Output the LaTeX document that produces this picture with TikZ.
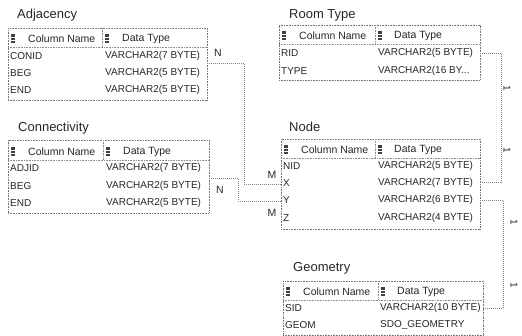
\documentclass[tikz,border=0pt]{standalone}
\usepackage{fontspec}
\setmainfont{Liberation Sans}
\tikzset{
 tbox/.style={draw=black!55, dash pattern=on 0.8pt off 0.8pt, line width=0.6pt, inner sep=0pt, outer sep=0pt, anchor=north west},
 tline/.style={draw=black!45, dash pattern=on 0.8pt off 0.8pt, line width=0.5pt},
 ttl/.style={font=\fontsize{13}{15}\selectfont, anchor=west, inner sep=0pt, text=black!85},
 hdr/.style={font=\fontsize{10.5}{12}\selectfont, anchor=west, inner sep=0pt, text=black!85},
 cell/.style={font=\fontsize{10}{12}\selectfont, anchor=west, inner sep=0pt, text=black!85},
 conn/.style={draw=black!50, dash pattern=on 0.8pt off 1.2pt, line width=0.6pt},
 card/.style={font=\fontsize{10.5}{12}\selectfont, inner sep=0pt, text=black!85},
 onelab/.style={font=\fontsize{10}{12}\selectfont, inner sep=0pt, rotate=-90, text=black!85},
}
\newcommand\colicon[2]{%
  \fill[black!75] (#1,#2-4.5) rectangle (#1+4,#2+4.5);
  \draw[white,line width=0.4pt] (#1,#2-1.5) -- (#1+4,#2-1.5) (#1,#2+1.5) -- (#1+4,#2+1.5);}
\begin{document}
\begin{tikzpicture}[x=1pt,y=-1pt]
\useasboundingbox (0,0) rectangle (522,336);

% Adjacency
\node[ttl] (adjT) at (17,15) {Adjacency};
\node[tbox, minimum width=199pt, minimum height=72pt] (adj) at (8,28) {};
\draw[tline] (adj.west |- 0,47) -- (adj.east |- 0,47);
\draw[tline] (102,28) -- (102,47);
\colicon{11}{39}\colicon{105}{39}
\node[hdr] (adjh1) at (28,39) {Column Name};
\node[hdr] (adjh2) at (122,39) {Data Type};
\node[cell] (adjr1) at (10,56) {CONID};
\node[cell] (adjd1) at (105,56) {VARCHAR2(7 BYTE)};
\node[cell] (adjr2) at (10,73) {BEG};
\node[cell] (adjd2) at (105,73) {VARCHAR2(5 BYTE)};
\node[cell] (adjr3) at (10,90) {END};
\node[cell] (adjd3) at (105,90) {VARCHAR2(5 BYTE)};

% Connectivity
\node[ttl] (conT) at (18,128) {Connectivity};
\node[tbox, minimum width=201pt, minimum height=73pt] (con) at (8,140) {};
\draw[tline] (con.west |- 0,160) -- (con.east |- 0,160);
\draw[tline] (103,140) -- (103,160);
\colicon{11}{152}\colicon{106}{152}
\node[hdr] (conh1) at (28,152) {Column Name};
\node[hdr] (conh2) at (123,152) {Data Type};
\node[cell] (conr1) at (10,168) {ADJID};
\node[cell] (cond1) at (106,168) {VARCHAR2(7 BYTE)};
\node[cell] (conr2) at (10,186) {BEG};
\node[cell] (cond2) at (106,186) {VARCHAR2(5 BYTE)};
\node[cell] (conr3) at (10,203) {END};
\node[cell] (cond3) at (106,203) {VARCHAR2(5 BYTE)};

% Room Type
\node[ttl] (roomT) at (289,15) {Room Type};
\node[tbox, minimum width=201pt, minimum height=55pt] (room) at (279,25) {};
\draw[tline] (room.west |- 0,44) -- (room.east |- 0,44);
\draw[tline] (375,25) -- (375,44);
\colicon{282}{36}\colicon{378}{36}
\node[hdr] (roomh1) at (299,36) {Column Name};
\node[hdr] (roomh2) at (394,36) {Data Type};
\node[cell] (roomr1) at (281,53) {RID};
\node[cell] (roomd1) at (378,53) {VARCHAR2(5 BYTE)};
\node[cell] (roomr2) at (281,71) {TYPE};
\node[cell] (roomd2) at (378,71) {VARCHAR2(16 BY...};

% Node
\node[ttl] (nodeT) at (289,127) {Node};
\node[tbox, minimum width=199pt, minimum height=90pt] (nodetab) at (281,139) {};
\draw[tline] (nodetab.west |- 0,158) -- (nodetab.east |- 0,158);
\draw[tline] (375,139) -- (375,158);
\colicon{284}{150}\colicon{378}{150}
\node[hdr] (nodeh1) at (301,150) {Column Name};
\node[hdr] (nodeh2) at (394,150) {Data Type};
\node[cell] (noder1) at (283,166) {NID};
\node[cell] (noded1) at (378,166) {VARCHAR2(5 BYTE)};
\node[cell] (noder2) at (283,183) {X};
\node[cell] (noded2) at (378,183) {VARCHAR2(7 BYTE)};
\node[cell] (noder3) at (283,200) {Y};
\node[cell] (noded3) at (378,200) {VARCHAR2(6 BYTE)};
\node[cell] (noder4) at (283,218) {Z};
\node[cell] (noded4) at (378,218) {VARCHAR2(4 BYTE)};

% Geometry
\node[ttl] (geoT) at (293,268) {Geometry};
\node[tbox, minimum width=200pt, minimum height=54pt] (geo) at (283,281) {};
\draw[tline] (geo.west |- 0,300) -- (geo.east |- 0,300);
\draw[tline] (378,281) -- (378,300);
\colicon{286}{292}\colicon{381}{292}
\node[hdr] (geoh1) at (303,292) {Column Name};
\node[hdr] (geoh2) at (397,292) {Data Type};
\node[cell] (geor1) at (285,308) {SID};
\node[cell] (geod1) at (380,308) {VARCHAR2(10 BYTE)};
\node[cell] (geor2) at (285,325) {GEOM};
\node[cell] (geod2) at (380,325) {SDO\_GEOMETRY};

% connectors
\draw[conn] (adj.east |- 0,63) -- ++(37,0) |- (nodetab.west |- 0,184);
\draw[conn] (con.east |- 0,178) -- ++(29,0) |- (nodetab.west |- 0,201);
\draw[conn] (room.east |- 0,53) -- ++(21,0) |- (nodetab.east |- 0,182);
\draw[conn] (nodetab.east |- 0,200) -- ++(23,0) |- (geo.east |- 0,308);

% cardinalities
\node[card] (n1) at (218,53) {N};
\node[card] (n2) at (220,190) {N};
\node[card] (m1) at (272,175) {M};
\node[card] (m2) at (272,213) {M};
\node[onelab] (o1) at (507,88) {1};
\node[onelab] (o2) at (507,150) {1};
\node[onelab] (o3) at (514,222) {1};
\node[onelab] (o4) at (514,285) {1};
\end{tikzpicture}
\end{document}
